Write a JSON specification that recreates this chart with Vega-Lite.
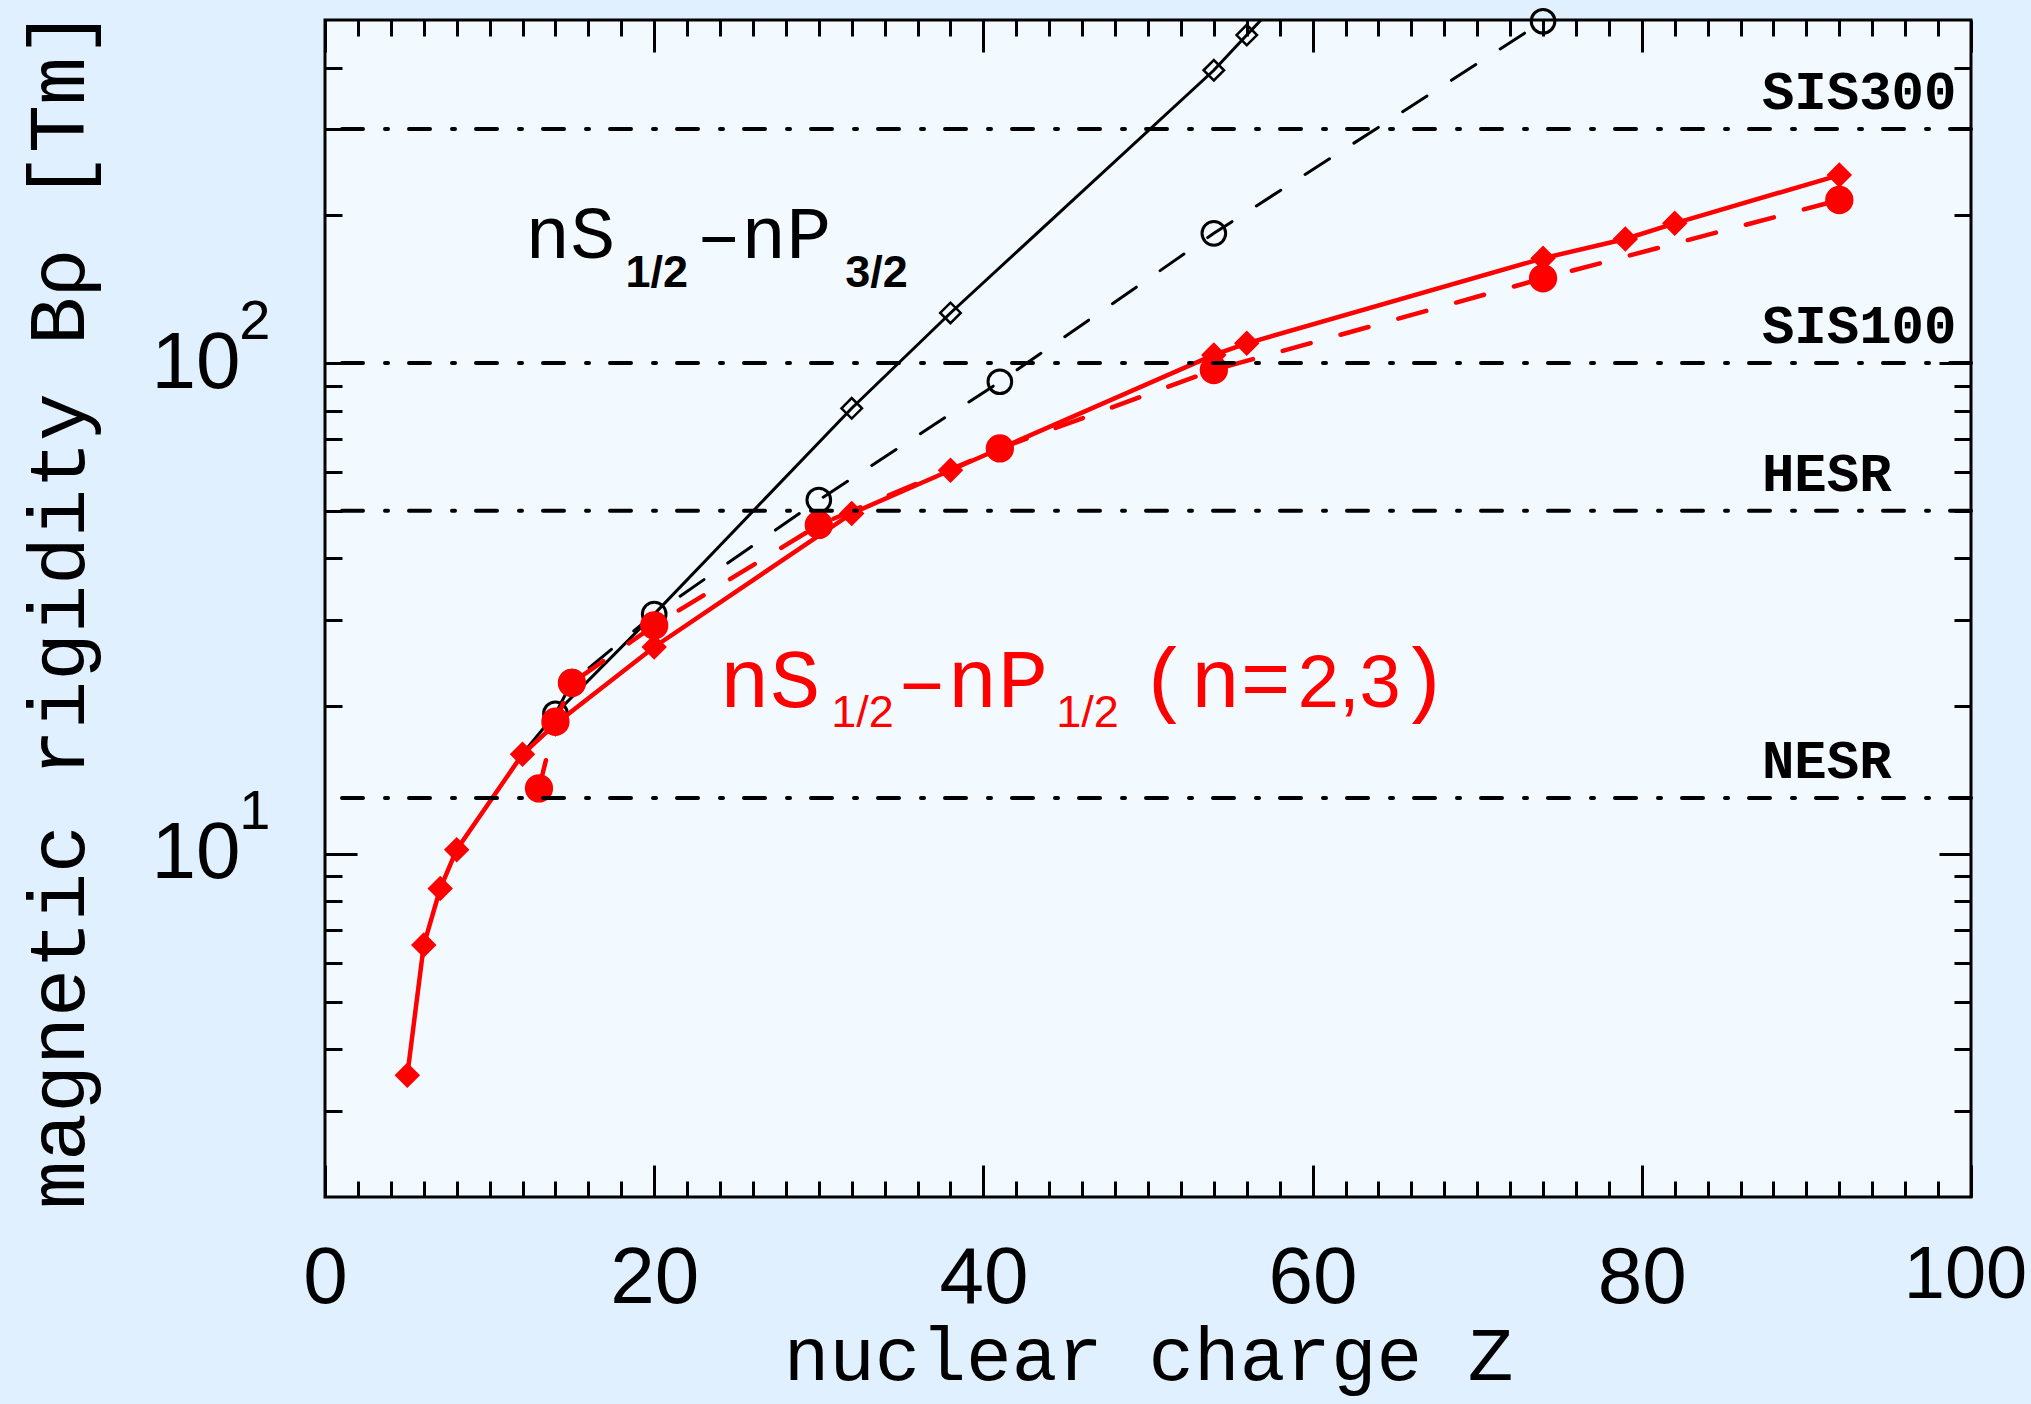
{
  "$schema": "https://vega.github.io/schema/vega-lite/v6.json",
  "width": 1646,
  "height": 1177,
  "autosize": {"type": "none"},
  "padding": {"left": 325, "top": 20, "right": 60, "bottom": 207},
  "background": "#e0f0ff",
  "config": {
    "view": {"fill": "#f3faff", "stroke": "#000000", "strokeWidth": 3},
    "axis": {"domain": false, "grid": false, "tickColor": "#000000", "tickWidth": 3, "labelColor": "#000000", "titleColor": "#000000", "labelFlush": false, "labelOverlap": false, "labelBound": false}
  },
  "datasets": {
    "bs": [{"Z": 12, "B": 16.0}, {"Z": 14, "B": 19.3}, {"Z": 20, "B": 30.8}, {"Z": 32, "B": 80.9}, {"Z": 38, "B": 126.5}, {"Z": 54, "B": 395}, {"Z": 56, "B": 466}, {"Z": 60, "B": 645}],
    "bd": [{"Z": 14, "B": 19.3}, {"Z": 15, "B": 22.4}, {"Z": 20, "B": 30.8}, {"Z": 30, "B": 52.6}, {"Z": 41, "B": 91.6}, {"Z": 54, "B": 183.8}, {"Z": 74, "B": 497}],
    "rs": [{"Z": 5, "B": 3.54}, {"Z": 6, "B": 6.52}, {"Z": 7, "B": 8.5}, {"Z": 8, "B": 10.2}, {"Z": 12, "B": 15.96}, {"Z": 14, "B": 18.4}, {"Z": 20, "B": 26.4}, {"Z": 32, "B": 49.4}, {"Z": 38, "B": 60.5}, {"Z": 54, "B": 103.9}, {"Z": 56, "B": 109.7}, {"Z": 74, "B": 163.5}, {"Z": 79, "B": 179}, {"Z": 82, "B": 192.6}, {"Z": 92, "B": 241.6}],
    "rd": [{"Z": 13, "B": 13.6}, {"Z": 14, "B": 18.6}, {"Z": 15, "B": 22.3}, {"Z": 20, "B": 29.2}, {"Z": 30, "B": 46.8}, {"Z": 41, "B": 67.0}, {"Z": 54, "B": 96.8}, {"Z": 74, "B": 148.8}, {"Z": 92, "B": 214.9}],
    "rings": [{"name": "SIS300", "B": 300}, {"name": "SIS100", "B": 100}, {"name": "HESR", "B": 50}, {"name": "NESR", "B": 13}],
    "one": [{}]
  },
  "layer": [
    {
      "data": {"name": "bs"},
      "mark": {"type": "line", "color": "#000000", "strokeWidth": 3, "clip": true},
      "encoding": {
        "x": {"field": "Z", "type": "quantitative", "scale": {"domain": [0, 100], "nice": false, "zero": false},
          "axis": {"orient": "bottom", "values": [0, 20, 40, 60, 80, 100], "ticks": false, "labels": true, "labelFont": "Liberation Sans", "labelFontSize": {"condition": {"test": "datum.value == 100", "value": 74}, "value": 80}, "labelOffset": {"condition": {"test": "datum.value == 100", "value": -6}, "value": 0}, "labelPadding": 42, "format": "d", "title": "nuclear charge Z", "titleFont": "Liberation Mono", "titleFontSize": 76, "titleFontWeight": "normal", "titleBaseline": "alphabetic", "titleY": 182}},
        "y": {"field": "B", "type": "quantitative", "scale": {"type": "log", "domain": [2, 500], "nice": false},
          "axis": {"orient": "left", "values": [10, 100], "ticks": false, "labelExpr": "'10'", "labelFont": "Liberation Sans", "labelFontSize": 80, "labelPadding": 85, "labelBaseline": "middle", "title": "magnetic rigidity Bρ [Tm]", "titleFont": "Liberation Mono", "titleFontSize": 80, "titleFontWeight": "normal", "titlePadding": 51}}
      }
    },
    {
      "data": {"name": "bs"},
      "transform": [{"filter": "datum.Z >= 30 && datum.Z <= 56"}],
      "mark": {"type": "point", "shape": "diamond", "filled": false, "color": "#000000", "strokeWidth": 2.5, "size": 420, "opacity": 1},
      "encoding": {
        "x": {"field": "Z", "type": "quantitative", "scale": {"domain": [0, 100], "nice": false, "zero": false},
          "axis": {"orient": "bottom", "values": [0, 20, 40, 60, 80, 100], "labels": false, "tickSize": -32, "title": null}},
        "y": {"field": "B", "type": "quantitative", "scale": {"type": "log", "domain": [2, 500], "nice": false},
          "axis": {"orient": "left", "values": [10, 100], "ticks": false, "labelExpr": "datum.value == 10 ? '1' : '2'", "labelFont": "Liberation Sans", "labelFontSize": 56, "labelPadding": 55, "labelOffset": -42, "labelBaseline": "middle", "title": null}}
      }
    },
    {
      "data": {"name": "bd"},
      "mark": {"type": "line", "color": "#000000", "strokeWidth": 3, "strokeDash": [29, 29], "strokeCap": "round"},
      "encoding": {
        "x": {"field": "Z", "type": "quantitative", "scale": {"domain": [0, 100], "nice": false, "zero": false},
          "axis": {"orient": "bottom", "values": [2, 4, 6, 8, 10, 12, 14, 16, 18, 22, 24, 26, 28, 30, 32, 34, 36, 38, 42, 44, 46, 48, 50, 52, 54, 56, 58, 62, 64, 66, 68, 70, 72, 74, 76, 78, 82, 84, 86, 88, 90, 92, 94, 96, 98], "labels": false, "tickSize": -16, "title": null}},
        "y": {"field": "B", "type": "quantitative", "scale": {"type": "log", "domain": [2, 500], "nice": false},
          "axis": {"orient": "left", "values": [10, 100], "labels": false, "tickSize": -32, "title": null}}
      }
    },
    {
      "data": {"name": "bd"},
      "mark": {"type": "point", "shape": "circle", "filled": false, "color": "#000000", "strokeWidth": 3, "size": 560, "opacity": 1},
      "encoding": {
        "x": {"field": "Z", "type": "quantitative", "scale": {"domain": [0, 100], "nice": false, "zero": false},
          "axis": {"orient": "top", "values": [0, 20, 40, 60, 80, 100], "labels": false, "tickSize": -32, "title": null}},
        "y": {"field": "B", "type": "quantitative", "scale": {"type": "log", "domain": [2, 500], "nice": false},
          "axis": {"orient": "left", "values": [3, 4, 5, 6, 7, 8, 9, 20, 30, 40, 50, 60, 70, 80, 90, 200, 300, 400], "labels": false, "tickSize": -17, "title": null}}
      }
    },
    {
      "data": {"name": "rs"},
      "mark": {"type": "line", "color": "#ff0000", "strokeWidth": 4.5},
      "encoding": {
        "x": {"field": "Z", "type": "quantitative", "scale": {"domain": [0, 100], "nice": false, "zero": false},
          "axis": {"orient": "top", "values": [2, 4, 6, 8, 10, 12, 14, 16, 18, 22, 24, 26, 28, 30, 32, 34, 36, 38, 42, 44, 46, 48, 50, 52, 54, 56, 58, 62, 64, 66, 68, 70, 72, 74, 76, 78, 82, 84, 86, 88, 90, 92, 94, 96, 98], "labels": false, "tickSize": -16, "title": null}},
        "y": {"field": "B", "type": "quantitative", "scale": {"type": "log", "domain": [2, 500], "nice": false},
          "axis": {"orient": "right", "values": [10, 100], "labels": false, "tickSize": -32, "title": null}}
      }
    },
    {
      "data": {"name": "rs"},
      "mark": {"type": "point", "shape": "diamond", "filled": true, "color": "#ff0000", "size": 650, "opacity": 1},
      "encoding": {
        "x": {"field": "Z", "type": "quantitative", "scale": {"domain": [0, 100], "nice": false, "zero": false}, "axis": null},
        "y": {"field": "B", "type": "quantitative", "scale": {"type": "log", "domain": [2, 500], "nice": false},
          "axis": {"orient": "right", "values": [3, 4, 5, 6, 7, 8, 9, 20, 30, 40, 50, 60, 70, 80, 90, 200, 300, 400], "labels": false, "tickSize": -17, "title": null}}
      }
    },
    {
      "data": {"name": "rd"},
      "mark": {"type": "line", "color": "#ff0000", "strokeWidth": 4.5, "strokeDash": [29, 31], "strokeCap": "round"},
      "encoding": {
        "x": {"field": "Z", "type": "quantitative", "scale": {"domain": [0, 100], "nice": false, "zero": false}, "axis": null},
        "y": {"field": "B", "type": "quantitative", "scale": {"type": "log", "domain": [2, 500], "nice": false}, "axis": null}
      }
    },
    {
      "data": {"name": "rd"},
      "mark": {"type": "point", "shape": "circle", "filled": true, "color": "#ff0000", "size": 800, "opacity": 1},
      "encoding": {
        "x": {"field": "Z", "type": "quantitative", "scale": {"domain": [0, 100], "nice": false, "zero": false}, "axis": null},
        "y": {"field": "B", "type": "quantitative", "scale": {"type": "log", "domain": [2, 500], "nice": false}, "axis": null}
      }
    },
    {
      "data": {"name": "rings"},
      "mark": {"type": "rule", "color": "#000000", "strokeWidth": 4, "strokeDash": [21, 21, 3, 22], "strokeCap": "round"},
      "encoding": {
        "y": {"field": "B", "type": "quantitative", "scale": {"type": "log", "domain": [2, 500], "nice": false}, "axis": null}
      }
    },
    {
      "data": {"name": "rings"},
      "mark": {"type": "text", "font": "Liberation Mono", "fontWeight": "bold", "fontSize": 54, "align": "left", "baseline": "alphabetic", "dy": -20, "color": "#000000"},
      "encoding": {
        "x": {"datum": 87.3, "type": "quantitative", "scale": {"domain": [0, 100], "nice": false, "zero": false}, "axis": null},
        "y": {"field": "B", "type": "quantitative", "scale": {"type": "log", "domain": [2, 500], "nice": false}, "axis": null},
        "text": {"field": "name"}
      }
    },
    {
      "data": {"name": "one"},
      "mark": {"type": "text", "text": "nS", "font": "Liberation Mono", "fontSize": 75, "align": "left", "baseline": "alphabetic", "color": "#000000"},
      "encoding": {
        "x": {"datum": 12.17, "type": "quantitative", "scale": {"domain": [0, 100], "nice": false, "zero": false}, "axis": null},
        "y": {"datum": 163.5, "type": "quantitative", "scale": {"type": "log", "domain": [2, 500], "nice": false}, "axis": null}
      }
    },
    {
      "data": {"name": "one"},
      "mark": {"type": "text", "text": "1/2", "font": "Liberation Sans", "fontWeight": "bold", "fontSize": 45, "align": "left", "baseline": "alphabetic", "color": "#000000"},
      "encoding": {
        "x": {"datum": 18.25, "type": "quantitative", "scale": {"domain": [0, 100], "nice": false, "zero": false}, "axis": null},
        "y": {"datum": 143.1, "type": "quantitative", "scale": {"type": "log", "domain": [2, 500], "nice": false}, "axis": null}
      }
    },
    {
      "data": {"name": "one"},
      "mark": {"type": "text", "text": "–nP", "font": "Liberation Mono", "fontSize": 75, "align": "left", "baseline": "alphabetic", "color": "#000000"},
      "encoding": {
        "x": {"datum": 22.56, "type": "quantitative", "scale": {"domain": [0, 100], "nice": false, "zero": false}, "axis": null},
        "y": {"datum": 163.5, "type": "quantitative", "scale": {"type": "log", "domain": [2, 500], "nice": false}, "axis": null}
      }
    },
    {
      "data": {"name": "one"},
      "mark": {"type": "text", "text": "3/2", "font": "Liberation Sans", "fontWeight": "bold", "fontSize": 45, "align": "left", "baseline": "alphabetic", "color": "#000000"},
      "encoding": {
        "x": {"datum": 31.6, "type": "quantitative", "scale": {"domain": [0, 100], "nice": false, "zero": false}, "axis": null},
        "y": {"datum": 143.1, "type": "quantitative", "scale": {"type": "log", "domain": [2, 500], "nice": false}, "axis": null}
      }
    },
    {
      "data": {"name": "one"},
      "mark": {"type": "text", "text": "nS", "font": "Liberation Mono", "fontSize": 84, "align": "left", "baseline": "alphabetic", "color": "#ff0000"},
      "encoding": {
        "x": {"datum": 23.97, "type": "quantitative", "scale": {"domain": [0, 100], "nice": false, "zero": false}, "axis": null},
        "y": {"datum": 19.9, "type": "quantitative", "scale": {"type": "log", "domain": [2, 500], "nice": false}, "axis": null}
      }
    },
    {
      "data": {"name": "one"},
      "mark": {"type": "text", "text": "1/2", "font": "Liberation Sans", "fontSize": 45, "align": "left", "baseline": "alphabetic", "color": "#ff0000"},
      "encoding": {
        "x": {"datum": 30.75, "type": "quantitative", "scale": {"domain": [0, 100], "nice": false, "zero": false}, "axis": null},
        "y": {"datum": 18.16, "type": "quantitative", "scale": {"type": "log", "domain": [2, 500], "nice": false}, "axis": null}
      }
    },
    {
      "data": {"name": "one"},
      "mark": {"type": "text", "text": "–nP", "font": "Liberation Mono", "fontSize": 84, "align": "left", "baseline": "alphabetic", "color": "#ff0000"},
      "encoding": {
        "x": {"datum": 34.74, "type": "quantitative", "scale": {"domain": [0, 100], "nice": false, "zero": false}, "axis": null},
        "y": {"datum": 19.9, "type": "quantitative", "scale": {"type": "log", "domain": [2, 500], "nice": false}, "axis": null}
      }
    },
    {
      "data": {"name": "one"},
      "mark": {"type": "text", "text": "1/2", "font": "Liberation Sans", "fontSize": 45, "align": "left", "baseline": "alphabetic", "color": "#ff0000"},
      "encoding": {
        "x": {"datum": 44.42, "type": "quantitative", "scale": {"domain": [0, 100], "nice": false, "zero": false}, "axis": null},
        "y": {"datum": 18.16, "type": "quantitative", "scale": {"type": "log", "domain": [2, 500], "nice": false}, "axis": null}
      }
    },
    {
      "data": {"name": "one"},
      "mark": {"type": "text", "text": "(n=", "font": "Liberation Mono", "fontSize": 84, "align": "left", "baseline": "alphabetic", "color": "#ff0000"},
      "encoding": {
        "x": {"datum": 49.5, "type": "quantitative", "scale": {"domain": [0, 100], "nice": false, "zero": false}, "axis": null},
        "y": {"datum": 19.9, "type": "quantitative", "scale": {"type": "log", "domain": [2, 500], "nice": false}, "axis": null}
      }
    },
    {
      "data": {"name": "one"},
      "mark": {"type": "text", "text": "2,3", "font": "Liberation Sans", "fontSize": 74, "align": "left", "baseline": "alphabetic", "color": "#ff0000"},
      "encoding": {
        "x": {"datum": 59.1, "type": "quantitative", "scale": {"domain": [0, 100], "nice": false, "zero": false}, "axis": null},
        "y": {"datum": 19.9, "type": "quantitative", "scale": {"type": "log", "domain": [2, 500], "nice": false}, "axis": null}
      }
    },
    {
      "data": {"name": "one"},
      "mark": {"type": "text", "text": ")", "font": "Liberation Mono", "fontSize": 84, "align": "left", "baseline": "alphabetic", "color": "#ff0000"},
      "encoding": {
        "x": {"datum": 65.2, "type": "quantitative", "scale": {"domain": [0, 100], "nice": false, "zero": false}, "axis": null},
        "y": {"datum": 19.9, "type": "quantitative", "scale": {"type": "log", "domain": [2, 500], "nice": false}, "axis": null}
      }
    }
  ],
  "resolve": {"axis": {"x": "independent", "y": "independent"}}
}
